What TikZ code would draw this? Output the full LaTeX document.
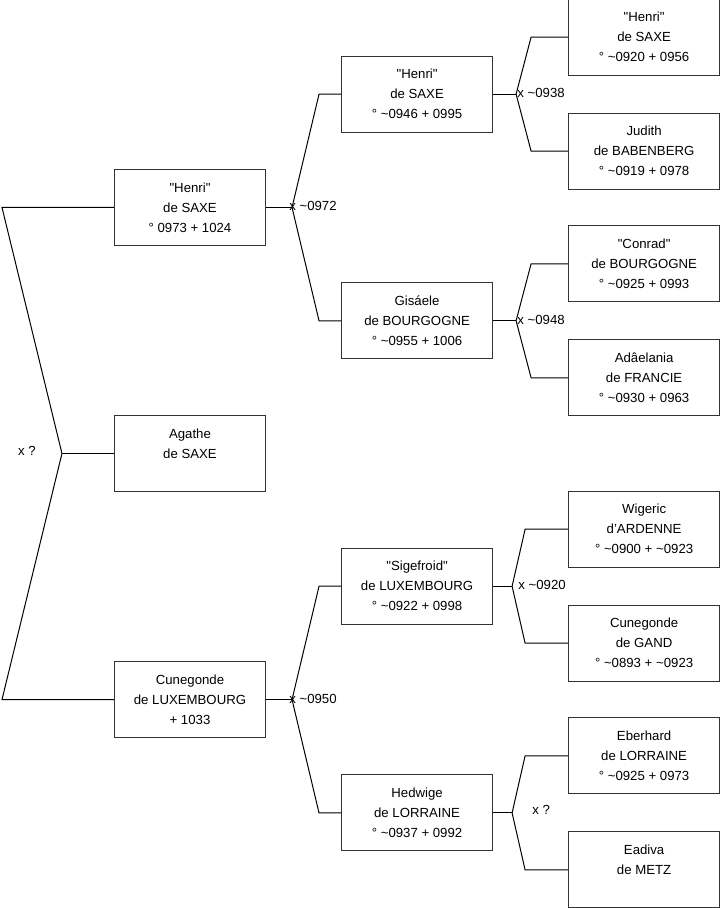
\documentclass[tikz,border=0pt]{standalone}
\usepackage{fontspec}
\setmainfont{Liberation Sans}
\usetikzlibrary{calc,positioning}
\definecolor{frame}{HTML}{333333}
\newcommand{\abt}{\textasciitilde}
\newcommand{\qt}{\textquotedbl}
\tikzset{
  person/.style={draw=frame,line width=.8pt,minimum width=113.25pt,minimum height=57pt,
                 inner sep=0pt,align=center,font=\fontsize{9.9}{15}\selectfont},
  link/.style={draw=black,line width=.75pt,line join=miter},
  wed/.style={anchor=west,inner sep=0pt,font=\fontsize{9.9}{15}\selectfont}
}
\begin{document}
\begin{tikzpicture}[x=.75pt,y=-.75pt,node distance=126.75pt and 56.25pt]
  \useasboundingbox (0,0) rectangle (719,908);
  % generation 1
  \node[person] (agathe) at (190,453.5) {Agathe\\de SAXE\\\mbox{}};
  \node[person,above=of agathe] (henriA) {\qt Henri\qt\\de SAXE\\° 0973 + 1024};
  \node[person,below=of agathe] (cunegondeA) {Cunegonde\\de LUXEMBOURG\\+ 1033};
  % generation 2
  \node[person,right=of henriA,yshift=85pt] (henriB) {\qt Henri\qt\\de SAXE\\° \abt0946 + 0995};
  \node[person,right=of henriA,yshift=-85pt] (gisele) {Gisáele\\de BOURGOGNE\\° \abt0955 + 1006};
  \node[person,right=of cunegondeA,yshift=85pt] (sigefroid) {\qt Sigefroid\qt\\de LUXEMBOURG\\° \abt0922 + 0998};
  \node[person,right=of cunegondeA,yshift=-85pt] (hedwige) {Hedwige\\de LORRAINE\\° \abt0937 + 0992};
  % generation 3
  \node[person,right=of henriB,yshift=42.75pt] (henriC) {\qt Henri\qt\\de SAXE\\° \abt0920 + 0956};
  \node[person,right=of henriB,yshift=-42.75pt] (judith) {Judith\\de BABENBERG\\° \abt0919 + 0978};
  \node[person,right=of gisele,yshift=42.75pt] (conrad) {\qt Conrad\qt\\de BOURGOGNE\\° \abt0925 + 0993};
  \node[person,right=of gisele,yshift=-42.75pt] (adelania) {Adâelania\\de FRANCIE\\° \abt0930 + 0963};
  \node[person,right=of sigefroid,yshift=42.75pt] (wigeric) {Wigeric\\d'ARDENNE\\° \abt0900 + \abt0923};
  \node[person,right=of sigefroid,yshift=-42.75pt] (gand) {Cunegonde\\de GAND\\° \abt0893 + \abt0923};
  \node[person,right=of hedwige,yshift=42.75pt] (eberhard) {Eberhard\\de LORRAINE\\° \abt0925 + 0973};
  \node[person,right=of hedwige,yshift=-42.75pt] (eadiva) {Eadiva\\de METZ\\\mbox{}};
  % couples
  \foreach \c/\f/\m/\j/\k/\dx/\dy/\lab in {
      henriA/henriB/gisele/26/27/-3/-1/{x \abt0972},
      cunegondeA/sigefroid/hedwige/26/27/-3/-1/{x \abt0950},
      henriB/henriC/judith/23/15/1/-1/{x \abt0938},
      gisele/conrad/adelania/23/15/1/-1/{x \abt0948},
      sigefroid/wigeric/gand/19/13/6/-1/{x \abt0920},
      hedwige/eberhard/eadiva/19/13/20/-3/{x ?}}{
    \coordinate (j\c) at ($(\c.east)+(\j,0)$);
    \coordinate (k\c) at ($(j\c)+(\k,0)$);
    \draw[link] (\c.east) -- (j\c);
    \draw[link] (\f.west) -- (k\c |- \f.west) -- (j\c) -- (k\c |- \m.west) -- (\m.west);
    \node[wed] (w\c) at ($(j\c)+(\dx,\dy)$) {\lab};
  }
  % root couple
  \coordinate (root) at ($(agathe.west)+(-52,0)$);
  \coordinate (edge) at (2,454);
  \draw[link] (agathe.west) -- (root);
  \draw[link] (henriA.west) -- (henriA.west -| edge) -- (root) -- (cunegondeA.west -| edge) -- (cunegondeA.west);
  \node[wed] (wroot) at ($(root)+(-44,-3)$) {x ?};
\end{tikzpicture}
\end{document}
